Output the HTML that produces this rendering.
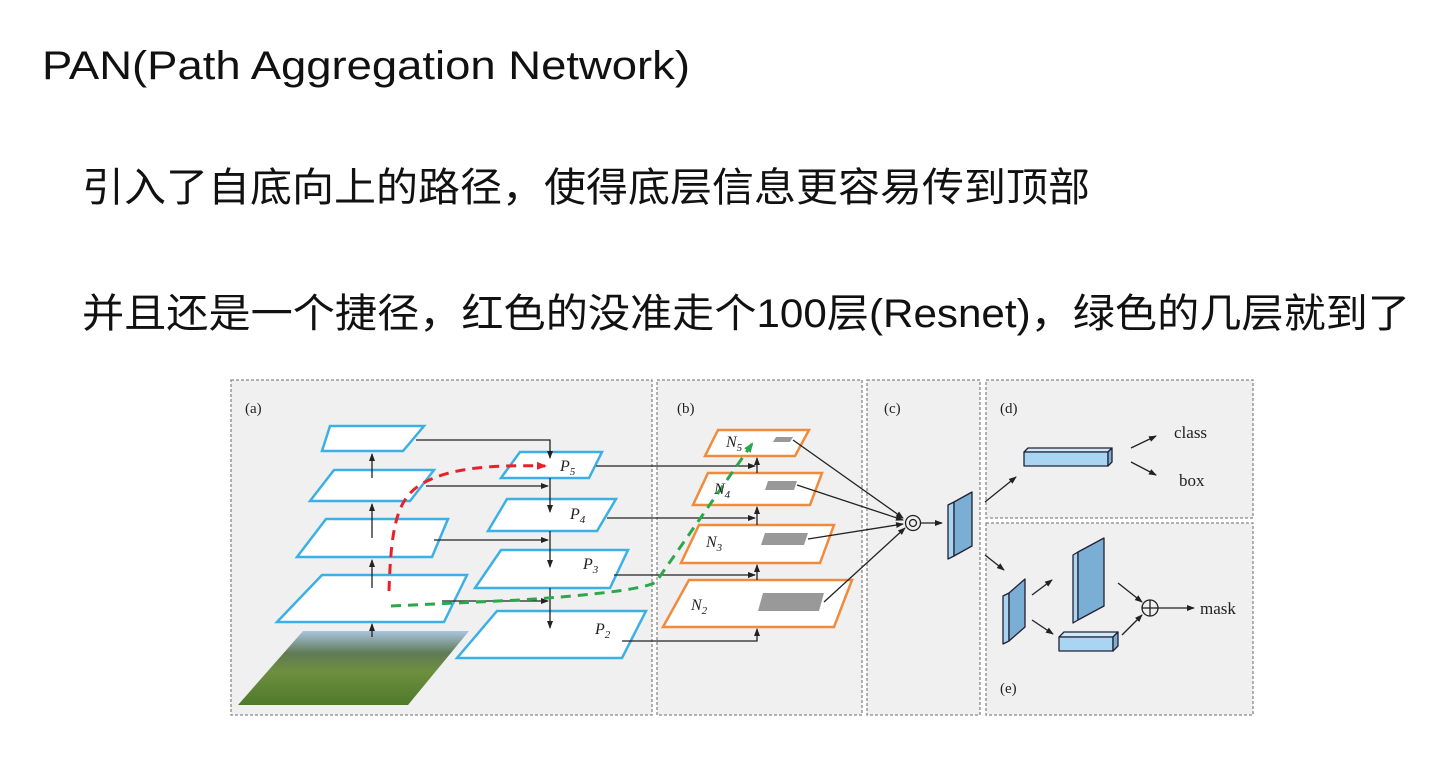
<!DOCTYPE html>
<html><head><meta charset="utf-8"><style>
html,body{margin:0;padding:0;background:#fff;}
svg{display:block;}
.t{font-family:"Liberation Sans","Noto Sans CJK SC",sans-serif;fill:#111;}
.s{font-family:"Liberation Serif",serif;fill:#222;}
.lab{font-family:"Liberation Serif",serif;font-style:italic;fill:#222;font-size:16px;}
</style></head><body>
<svg width="1454" height="757" viewBox="0 0 1454 757" xmlns="http://www.w3.org/2000/svg">
<defs>
<marker id="ah" markerWidth="8" markerHeight="8" refX="7" refY="4" orient="auto" markerUnits="userSpaceOnUse"><path d="M0,1 L8,4 L0,7 z" fill="#222"/></marker>
<marker id="ar" markerWidth="10" markerHeight="10" refX="8" refY="5" orient="auto" markerUnits="userSpaceOnUse"><path d="M0,1 L10,5 L0,9 z" fill="#e8202a"/></marker>
<marker id="ag" markerWidth="10" markerHeight="10" refX="8" refY="5" orient="auto" markerUnits="userSpaceOnUse"><path d="M0,1 L10,5 L0,9 z" fill="#2aa84a"/></marker>
<linearGradient id="ph" x1="0" y1="0" x2="0" y2="1"><stop offset="0" stop-color="#a9c4e0"/><stop offset="0.3" stop-color="#5f7a55"/><stop offset="0.55" stop-color="#6d8f3e"/><stop offset="1" stop-color="#4e7a2a"/></linearGradient>
</defs>
<text class="t" x="42" y="79" font-size="40" textLength="648" lengthAdjust="spacingAndGlyphs">PAN(Path Aggregation Network)</text>
<text class="t" x="82" y="201" font-size="40" textLength="1008" lengthAdjust="spacingAndGlyphs">引入了自底向上的路径，使得底层信息更容易传到顶部</text>
<text class="t" x="82" y="327" font-size="40" textLength="1328" lengthAdjust="spacingAndGlyphs">并且还是一个捷径，红色的没准走个100层(Resnet)，绿色的几层就到了</text>

<g fill="#f0f0f0" stroke="#888" stroke-width="1.3" stroke-dasharray="3,2">
<rect x="231" y="380" width="421" height="335"/>
<rect x="657" y="380" width="205" height="335"/>
<rect x="867" y="380" width="113" height="335"/>
<rect x="986" y="380" width="267" height="138"/>
<rect x="986" y="523" width="267" height="192"/>
</g>
<g class="s" font-size="15"><text x="245" y="413">(a)</text><text x="677" y="413">(b)</text><text x="884" y="413">(c)</text><text x="1000" y="413">(d)</text><text x="1000" y="693">(e)</text>
<text x="1174" y="438" font-size="17">class</text><text x="1179" y="486" font-size="17">box</text><text x="1200" y="614" font-size="17">mask</text></g>

<polygon points="303,631 469,631 408,705 238,705" fill="url(#ph)"/>
<g fill="#fff" stroke="#3cb0e6" stroke-width="2.5" stroke-linejoin="miter">
<polygon points="330,426 424,426 403,451 322,451"/>
<polygon points="334,470 434,470 410,501 310,501"/>
<polygon points="326,519 448,519 432,557 297,557"/>
<polygon points="322,575 467,575 444,622 277,622"/>
<polygon points="520,452 602,452 589,478 501,478"/>
<polygon points="507,499 616,499 597,531 488,531"/>
<polygon points="501,550 628,550 610,588 475,588"/>
<polygon points="497,611 646,611 622,658 457,658"/>
</g>
<g fill="#fff" stroke="#f08a3c" stroke-width="2.5">
<polygon points="718,430 809,430 795,456 705,456"/>
<polygon points="708,473 822,473 810,505 693,505"/>
<polygon points="699,525 834,525 820,563 681,563"/>
<polygon points="689,580 852,580 834,627 663,627"/>
</g>
<g fill="#999">
<polygon points="776,437 793,437 790,442 773,442"/>
<polygon points="768,481 797,481 794,490 765,490"/>
<polygon points="765,533 808,533 804,545 761,545"/>
<polygon points="763,593 824,593 819,611 758,611"/>
</g>
<g stroke="#222" stroke-width="1.3" fill="none">
<line x1="372" y1="637" x2="372" y2="624" marker-end="url(#ah)"/>
<line x1="372" y1="588" x2="372" y2="560" marker-end="url(#ah)"/>
<line x1="372" y1="538" x2="372" y2="504" marker-end="url(#ah)"/>
<line x1="372" y1="478" x2="372" y2="454" marker-end="url(#ah)"/>
<polyline points="416,440 550,440 550,458" marker-end="url(#ah)"/>
<line x1="550" y1="478" x2="550" y2="512" marker-end="url(#ah)"/>
<line x1="550" y1="531" x2="550" y2="567" marker-end="url(#ah)"/>
<line x1="550" y1="588" x2="550" y2="628" marker-end="url(#ah)"/>
<line x1="426" y1="486" x2="548" y2="486" marker-end="url(#ah)"/>
<line x1="434" y1="540" x2="548" y2="540" marker-end="url(#ah)"/>
<line x1="442" y1="601" x2="548" y2="601" marker-end="url(#ah)"/>
<line x1="596" y1="466" x2="755" y2="466" marker-end="url(#ah)"/>
<line x1="607" y1="518" x2="755" y2="518" marker-end="url(#ah)"/>
<line x1="614" y1="575" x2="755" y2="575" marker-end="url(#ah)"/>
<polyline points="622,641 757,641 757,629" marker-end="url(#ah)"/>
<line x1="757" y1="580" x2="757" y2="565" marker-end="url(#ah)"/>
<line x1="757" y1="525" x2="757" y2="507" marker-end="url(#ah)"/>
<line x1="757" y1="473" x2="757" y2="458" marker-end="url(#ah)"/>
<line x1="793" y1="440" x2="903" y2="518" marker-end="url(#ah)"/>
<line x1="797" y1="485" x2="903" y2="520" marker-end="url(#ah)"/>
<line x1="808" y1="539" x2="903" y2="524" marker-end="url(#ah)"/>
<line x1="824" y1="602" x2="905" y2="528" marker-end="url(#ah)"/>
<line x1="921" y1="523" x2="942" y2="523" marker-end="url(#ah)"/>
<line x1="985" y1="502" x2="1016" y2="477" marker-end="url(#ah)"/>
<line x1="1131" y1="448" x2="1156" y2="436" marker-end="url(#ah)"/>
<line x1="1131" y1="462" x2="1156" y2="475" marker-end="url(#ah)"/>
<line x1="985" y1="555" x2="1004" y2="570" marker-end="url(#ah)"/>
<line x1="1032" y1="595" x2="1052" y2="580" marker-end="url(#ah)"/>
<line x1="1032" y1="620" x2="1053" y2="634" marker-end="url(#ah)"/>
<line x1="1118" y1="583" x2="1142" y2="602" marker-end="url(#ah)"/>
<line x1="1122" y1="635" x2="1142" y2="615" marker-end="url(#ah)"/>
<line x1="1158" y1="608" x2="1194" y2="608" marker-end="url(#ah)"/>
<circle cx="913" cy="523" r="7.5"/><circle cx="913" cy="523" r="3.5"/>
<circle cx="1150" cy="608" r="8"/><line x1="1142" y1="608" x2="1158" y2="608"/><line x1="1150" y1="600" x2="1150" y2="616"/>
</g>
<g stroke="#223" stroke-width="1.3" stroke-linejoin="round">
<polygon points="948,505 954,502 954,556 948,559" fill="#a9d4f2"/>
<polygon points="954,502 972,492 972,546 954,556" fill="#7aaed4"/>
<polygon points="1024,452 1108,452 1112,448 1028,448" fill="#cfe8fa"/>
<rect x="1024" y="452" width="84" height="14" fill="#a9d4f2"/>
<polygon points="1108,452 1112,448 1112,462 1108,466" fill="#7aaed4"/>
<polygon points="1003,596 1009,593 1009,641 1003,644" fill="#a9d4f2"/>
<polygon points="1009,593 1025,579 1025,627 1009,641" fill="#7aaed4"/>
<polygon points="1073,555 1078,552 1078,620 1073,623" fill="#a9d4f2"/>
<polygon points="1078,552 1104,538 1104,606 1078,620" fill="#7aaed4"/>
<polygon points="1059,637 1113,637 1118,632 1064,632" fill="#cfe8fa"/>
<rect x="1059" y="637" width="54" height="14" fill="#a9d4f2"/>
<polygon points="1113,637 1118,632 1118,646 1113,651" fill="#7aaed4"/>
</g>
<path d="M389,591 C391,530 396,500 420,485 C450,466 500,465 545,466" fill="none" stroke="#e8202a" stroke-width="3" stroke-dasharray="10,7" marker-end="url(#ar)"/>
<path d="M391,606 L520,600 Q640,592 656,582 L752,444" fill="none" stroke="#2aa84a" stroke-width="3" stroke-dasharray="10,7" marker-end="url(#ag)"/>
<g class="lab">
<text x="560" y="471">P<tspan font-size="11" dy="4">5</tspan></text>
<text x="570" y="519">P<tspan font-size="11" dy="4">4</tspan></text>
<text x="583" y="569">P<tspan font-size="11" dy="4">3</tspan></text>
<text x="595" y="634">P<tspan font-size="11" dy="4">2</tspan></text>
<text x="726" y="447">N<tspan font-size="11" dy="4">5</tspan></text>
<text x="714" y="494">N<tspan font-size="11" dy="4">4</tspan></text>
<text x="706" y="547">N<tspan font-size="11" dy="4">3</tspan></text>
<text x="691" y="610">N<tspan font-size="11" dy="4">2</tspan></text>
</g>
</svg>
</body></html>
